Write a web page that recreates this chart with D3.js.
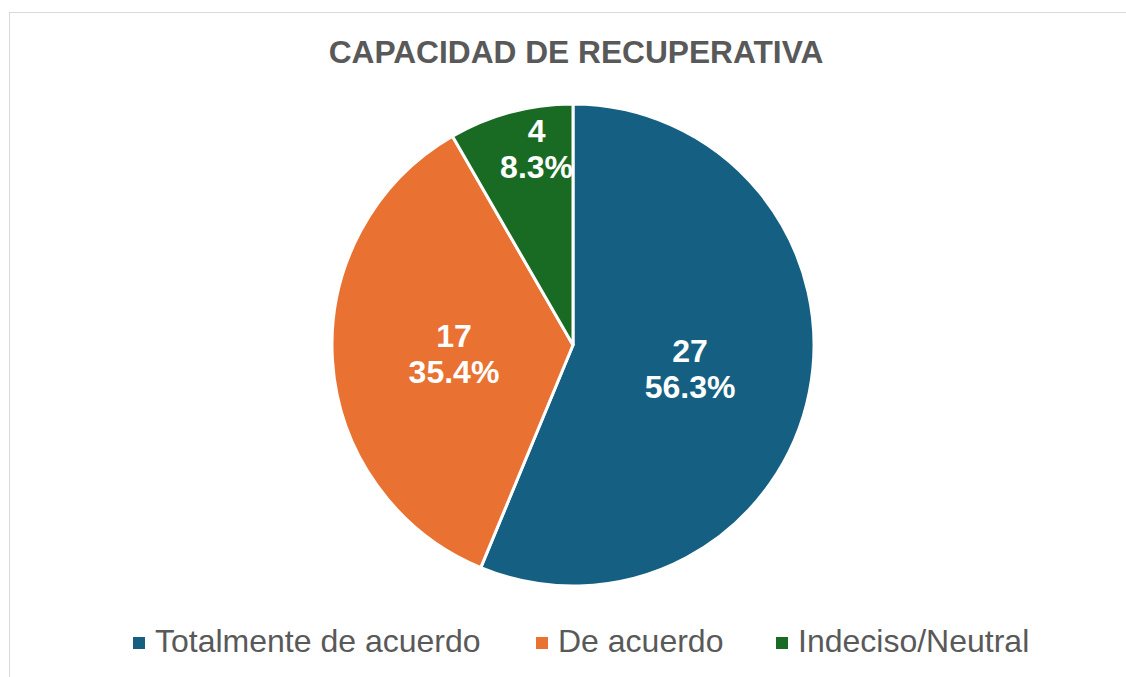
<!DOCTYPE html>
<html>
<head>
<meta charset="utf-8">
<script src="https://cdn.jsdelivr.net/npm/d3@7"></script>
<style>
  body { margin: 0; background: #fff; }
  text { font-family: Arial, "Liberation Sans", sans-serif; }
</style>
</head>
<body>
<div id="chart"></div>
<script>
// chart data
var categories = ["Totalmente de acuerdo", "De acuerdo", "Indeciso/Neutral"];
var counts = [27, 17, 4];
var percents = ["56.3%", "35.4%", "8.3%"];
var colors = ["#156082", "#E97132", "#196B24"];
var title = "CAPACIDAD DE RECUPERATIVA";

var width = 1126, height = 677;

var svg = d3.select("#chart").append("svg")
    .attr("width", width)
    .attr("height", height);

// chart area border
svg.append("rect")
    .attr("x", 9.5).attr("y", 12.5)
    .attr("width", width + 10).attr("height", height + 10)
    .attr("fill", "#fff")
    .attr("stroke", "#d9d9d9")
    .attr("stroke-width", 1);

svg.append("text")
    .attr("x", 576).attr("y", 62.5)
    .attr("text-anchor", "middle")
    .attr("font-size", "31.7px")
    .attr("font-weight", "bold")
    .attr("fill", "#595959")
    .text(title);

var cx = 573, cy = 345, radius = 241;

var pie = d3.pie().sort(null).value(function(d) { return d; });
var arcs = pie(counts);

var arc = d3.arc().innerRadius(0).outerRadius(radius);

var g = svg.append("g").attr("transform", "translate(" + cx + "," + cy + ")");

g.selectAll("path")
    .data(arcs)
    .enter().append("path")
    .attr("d", arc)
    .attr("fill", function(d, i) { return colors[i]; })
    .attr("stroke", "#fff")
    .attr("stroke-width", 3)
    .attr("stroke-linejoin", "round");

// labels: small slices pushed out toward the rim (best fit)
var total = d3.sum(counts);
var lab = g.selectAll("g.lab")
    .data(arcs)
    .enter().append("g")
    .attr("class", "lab")
    .attr("transform", function(d) {
      var small = d.value / total < 0.1;
      var r = small ? radius * 0.83 : radius * 0.495;
      var a = small ? d.startAngle + 0.65 * (d.endAngle - d.startAngle)
                    : (d.startAngle + d.endAngle) / 2;
      return "translate(" + (Math.sin(a) * r) + "," + (-Math.cos(a) * r) + ")";
    });

lab.append("text")
    .attr("text-anchor", "middle")
    .attr("y", -6)
    .attr("font-size", "32px")
    .attr("font-weight", "bold")
    .attr("fill", "#fff")
    .text(function(d, i) { return counts[i]; });

lab.append("text")
    .attr("text-anchor", "middle")
    .attr("y", 30)
    .attr("font-size", "32px")
    .attr("font-weight", "bold")
    .attr("fill", "#fff")
    .text(function(d, i) { return percents[i]; });

// legend
var legendX = [133, 536, 776];
var legend = svg.selectAll("g.legend")
    .data(categories)
    .enter().append("g")
    .attr("class", "legend")
    .attr("transform", function(d, i) { return "translate(" + legendX[i] + ",652)"; });

legend.append("rect")
    .attr("x", 0).attr("y", -15)
    .attr("width", 12).attr("height", 12)
    .attr("fill", function(d, i) { return colors[i]; });

legend.append("text")
    .attr("x", 22).attr("y", 0)
    .attr("font-size", "32px")
    .attr("fill", "#595959")
    .text(function(d) { return d; });
</script>
</body>
</html>
